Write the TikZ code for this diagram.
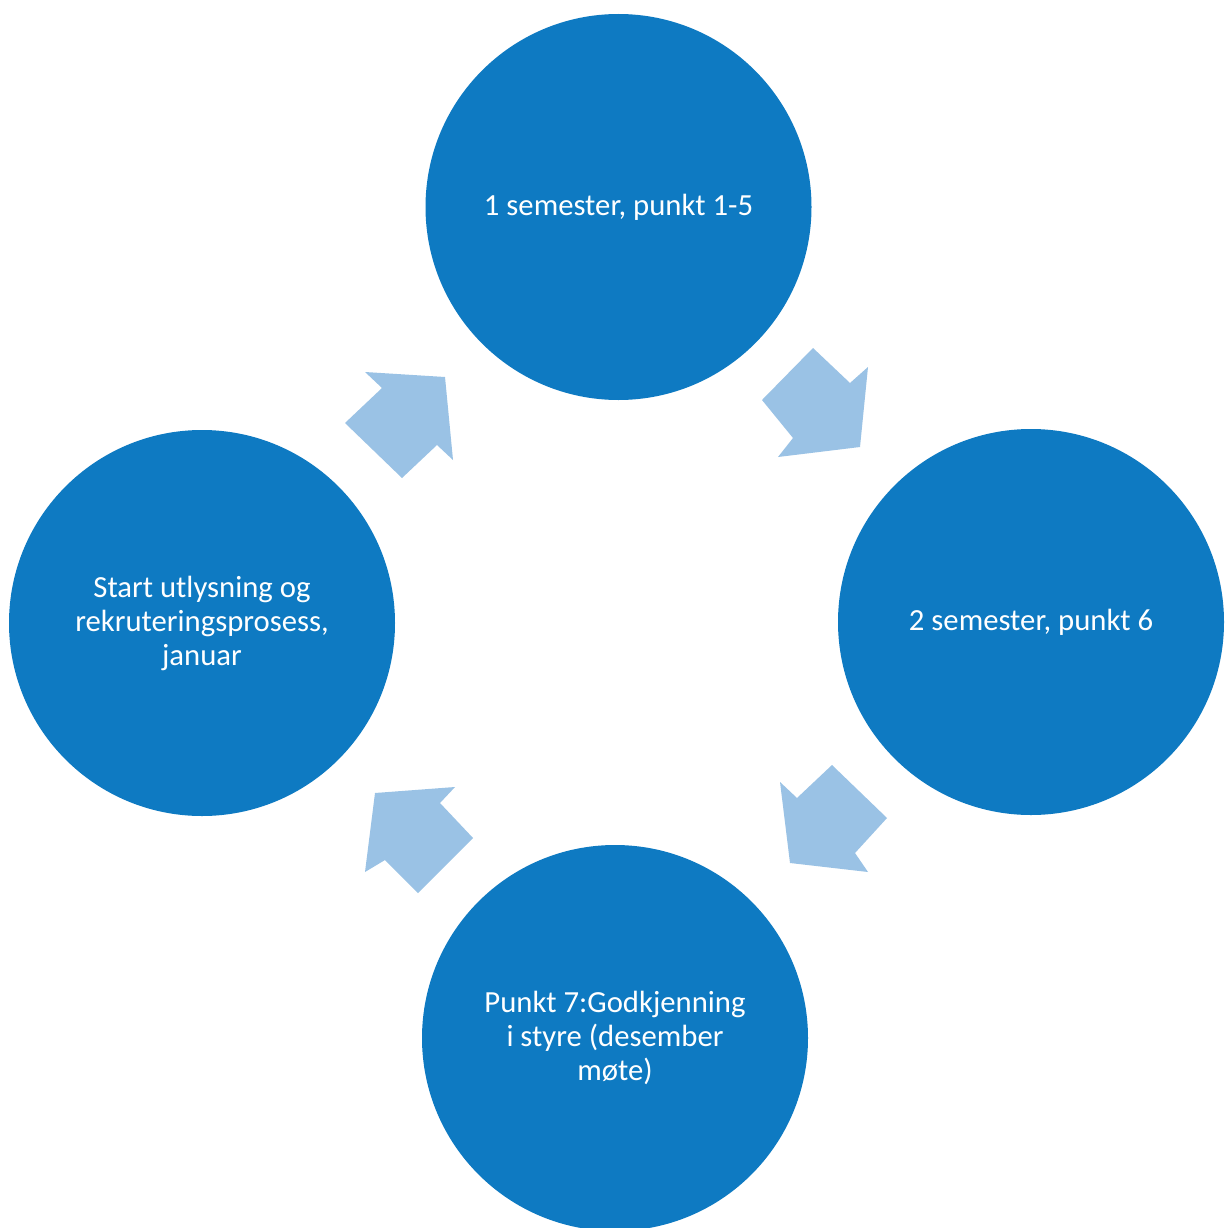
\documentclass[tikz,border=0pt]{standalone}
\usepackage{fontspec}
\setmainfont{Carlito}
\definecolor{circblue}{HTML}{0E7AC2}
\definecolor{arrowblue}{HTML}{9AC2E5}
\begin{document}
\begin{tikzpicture}[x=1pt,y=-1pt,
  stagecircle/.style={circle,fill=circblue,minimum size=386pt,inner sep=0pt,
    text=white,align=center,font=\fontsize{30.7}{34}\selectfont},
  blockarrow/.style={fill=arrowblue,draw=none}]
\useasboundingbox[fill=white] (0,0) rectangle (1225,1228);
\node[stagecircle] (top) at (618.5,207) {1 semester, punkt 1-5};
\node[stagecircle] (right) at (1031,622) {2 semester, punkt 6};
\node[stagecircle] (bottom) at (615,1038) {Punkt 7:Godkjenning\\i styre (desember\\møte)};
\node[stagecircle] (left) at (202,623) {Start utlysning og\\rekruteringsprosess,\\januar};
% arrow left -> top
\fill[blockarrow] (345,423) -- (382,388) -- (365,372) -- (445,377) -- (453,460) -- (437,445) -- (402,478) -- cycle;
% arrow top -> right
\fill[blockarrow] (813,348) -- (850,383) -- (868,367) -- (860,447) -- (778,457) -- (793,438) -- (762,400) -- cycle;
% arrow right -> bottom
\fill[blockarrow] (832,765) -- (887,818) -- (855,853) -- (868,872) -- (790,863) -- (780,782) -- (797,798) -- cycle;
% arrow bottom -> left
\fill[blockarrow] (473,838) -- (418,893) -- (385,860) -- (365,872) -- (375,793) -- (455,787) -- (440,803) -- cycle;
\end{tikzpicture}
\end{document}
